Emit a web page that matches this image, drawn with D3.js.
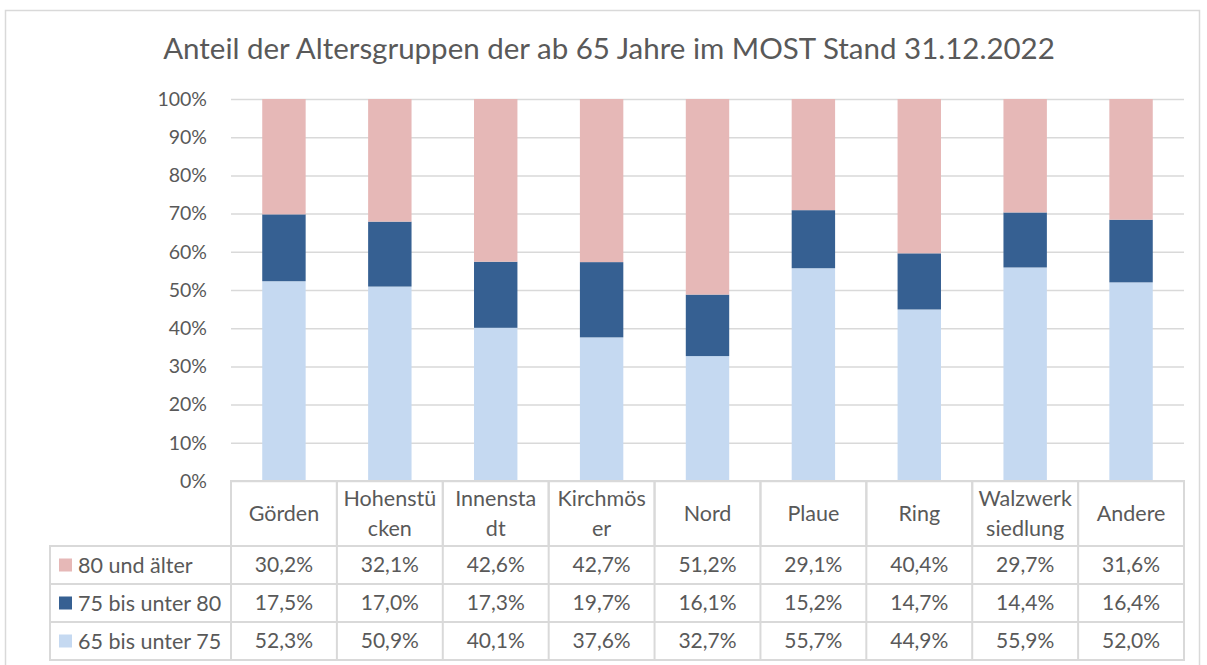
<!DOCTYPE html>
<html>
<head>
<meta charset="utf-8">
<script src="https://cdn.jsdelivr.net/npm/d3@7"></script>
<style>
  body { margin: 0; background: #fff; }
  svg { font-family: Lato, "Open Sans", sans-serif; }
</style>
</head>
<body>
<div id="chart"></div>
<script>
const categories = ['Görden', 'Hohenstücken', 'Innenstadt', 'Kirchmöser', 'Nord', 'Plaue', 'Ring', 'Walzwerksiedlung', 'Andere'];
const categoryLines = [['Görden'], ['Hohenstü', 'cken'], ['Innensta', 'dt'], ['Kirchmös', 'er'], ['Nord'], ['Plaue'], ['Ring'], ['Walzwerk', 'siedlung'], ['Andere']];
const seriesNames = ['80 und älter', '75 bis unter 80', '65 bis unter 75'];
const s80plus = [30.2, 32.1, 42.6, 42.7, 51.2, 29.1, 40.4, 29.7, 31.6];
const s75to80 = [17.5, 17.0, 17.3, 19.7, 16.1, 15.2, 14.7, 14.4, 16.4];
const s65to75 = [52.3, 50.9, 40.1, 37.6, 32.7, 55.7, 44.9, 55.9, 52.0];
const yTicks = [0, 0.1, 0.2, 0.3, 0.4, 0.5, 0.6, 0.7, 0.8, 0.9, 1.0];
const colors = { '80 und älter': '#E6B8B7', '75 bis unter 80': '#366092', '65 bis unter 75': '#C5D9F1' };

const W = 1207, H = 665;
const plot = { left: 231, right: 1184, top: 99, bottom: 481 };
const tableLeft = 50;
const headerH = 65, rowH = 38;
const textColor = '#595959', lineColor = '#D9D9D9';

const svg = d3.select('#chart').append('svg').attr('width', W).attr('height', H);

svg.append('rect')
  .attr('x', 5.5).attr('y', 10.5).attr('width', 1194).attr('height', 660)
  .attr('fill', '#fff').attr('stroke', lineColor).attr('stroke-width', 1.5);

svg.append('text')
  .attr('x', 609).attr('y', 59)
  .attr('text-anchor', 'middle')
  .attr('font-size', 29.5).attr('fill', textColor)
  .text('Anteil der Altersgruppen der ab 65 Jahre im MOST Stand 31.12.2022');

const x = d3.scaleBand().domain(categories).range([plot.left, plot.right]).paddingInner(0.59).paddingOuter(0.295);
const cell = d3.scaleBand().domain(categories).range([plot.left, plot.right]);
const y = d3.scaleLinear().domain([0, 1]).range([plot.bottom, plot.top]);

// gridlines + y axis
const yAxis = d3.axisLeft(y).tickValues(yTicks).tickFormat(d3.format('.0%')).tickSize(-(plot.right - plot.left)).tickPadding(24);
const gy = svg.append('g').attr('transform', 'translate(' + plot.left + ',0)').call(yAxis);
gy.select('.domain').remove();
gy.selectAll('line').attr('stroke', lineColor).attr('stroke-width', 1.5);
gy.selectAll('text').attr('fill', textColor).attr('font-size', 19.5).attr('font-family', 'Lato, sans-serif');

// stacked bars
const rows = categories.map((c, i) => ({ cat: c, '65 bis unter 75': s65to75[i] / 100, '75 bis unter 80': s75to80[i] / 100, '80 und älter': s80plus[i] / 100 }));
const stack = d3.stack().keys(['65 bis unter 75', '75 bis unter 80', '80 und älter']);
const layers = stack(rows);
svg.append('g').selectAll('g').data(layers).enter().append('g')
  .attr('fill', (d) => colors[d.key])
  .selectAll('rect').data((d) => d).enter().append('rect')
  .attr('x', (d) => x(d.data.cat))
  .attr('width', x.bandwidth())
  .attr('y', (d) => y(Math.min(d[1], 1)))
  .attr('height', (d) => y(d[0]) - y(Math.min(d[1], 1)));

// data table
const tb = svg.append('g').attr('stroke', lineColor).attr('stroke-width', 2).attr('fill', 'none');
const tableTop = plot.bottom;
const rowsTop = tableTop + headerH;
const tableBottom = rowsTop + rowH * seriesNames.length;
categories.forEach((c) => {
  tb.append('rect').attr('x', cell(c)).attr('y', tableTop).attr('width', cell.bandwidth()).attr('height', headerH);
});
seriesNames.forEach((s, r) => {
  tb.append('rect').attr('x', tableLeft).attr('y', rowsTop + r * rowH).attr('width', plot.right - tableLeft).attr('height', rowH);
});
categories.forEach((c) => {
  tb.append('line').attr('x1', cell(c)).attr('x2', cell(c)).attr('y1', rowsTop).attr('y2', tableBottom);
});

// header text
const ht = svg.append('g').attr('fill', textColor).attr('font-size', 21.5).attr('text-anchor', 'middle');
categories.forEach((c, i) => {
  const lines = categoryLines[i];
  const cx = cell(c) + cell.bandwidth() / 2;
  const cy = tableTop + headerH / 2;
  lines.forEach((ln, k) => {
    ht.append('text')
      .attr('x', cx)
      .attr('y', cy + (k - (lines.length - 1) / 2) * 30)
      .attr('dy', '0.35em')
      .text(ln);
  });
});

// row values
const values = { '80 und älter': s80plus, '75 bis unter 80': s75to80, '65 bis unter 75': s65to75 };
const fmt = (v) => v.toFixed(1).replace('.', ',') + '%';
seriesNames.forEach((s, r) => {
  const cy = rowsTop + r * rowH + rowH / 2;
  svg.append('rect').attr('x', 59).attr('y', cy - 6.5).attr('width', 13).attr('height', 13).attr('fill', colors[s]);
  svg.append('text').attr('x', 78).attr('y', cy).attr('dy', '0.35em')
    .attr('font-size', 21.5).attr('fill', textColor).text(s);
  values[s].forEach((v, i) => {
    svg.append('text')
      .attr('x', cell(categories[i]) + cell.bandwidth() / 2)
      .attr('y', cy).attr('dy', '0.35em')
      .attr('text-anchor', 'middle')
      .attr('font-size', 21).attr('fill', textColor)
      .text(fmt(v));
  });
});
</script>
</body>
</html>
